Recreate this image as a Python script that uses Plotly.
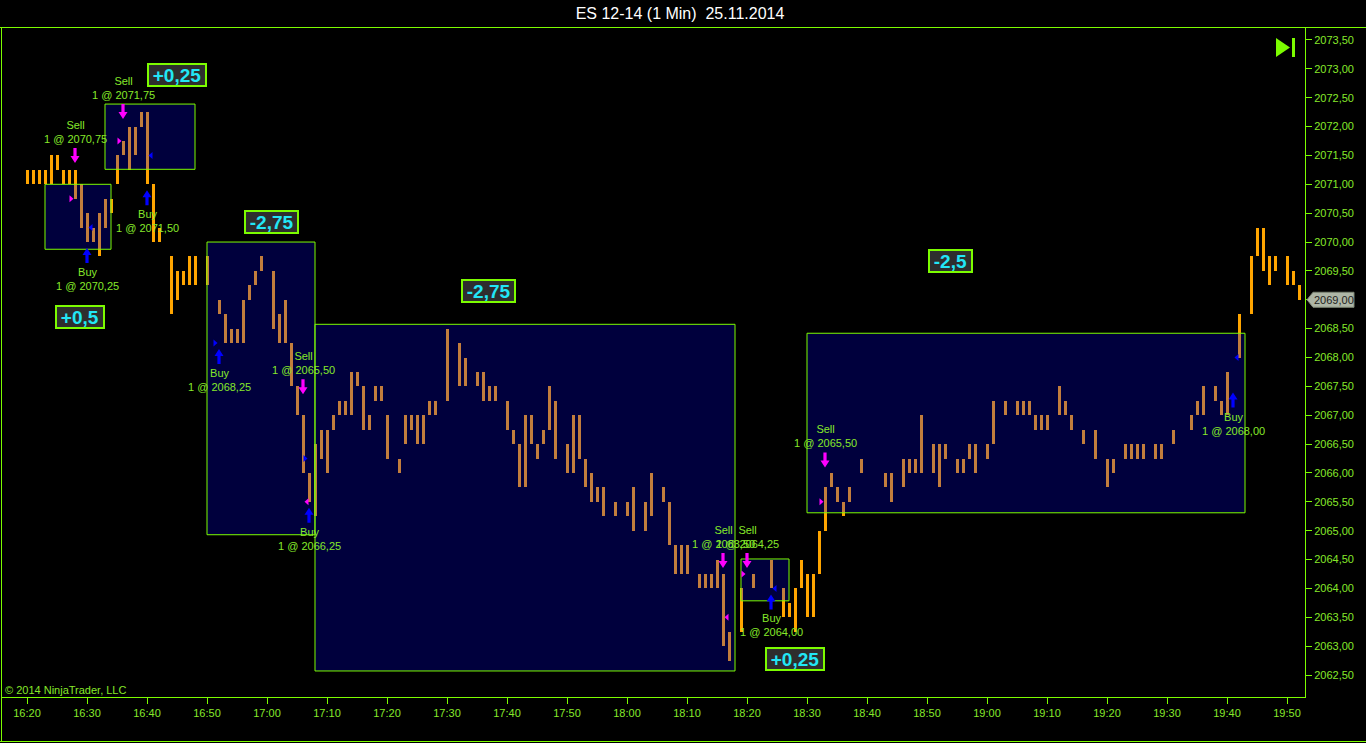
import plotly.graph_objects as go
import pandas as pd

# ---------------- data ----------------
DAY = "2014-11-25"
TITLE = "ES 12-14 (1 Min)  25.11.2014"
FIRST_BAR = "16:20"
# one bar per minute from 16:20; None = flat bar (high == low), not visible
HIGH = [
    2071.25, 2071.25, 2071.25, 2071.25, 2071.50, 2071.50, 2071.25, 2071.25, 2071.25, 2071.00,
    2070.50, 2070.25, 2070.50, 2070.75, 2070.75, 2071.50, 2071.75, 2072.00, 2072.00, 2072.25,
    2072.25, 2071.00, 2070.25, None, 2069.75, 2069.50, 2069.50, 2069.75, 2069.75, None,
    2069.75, None, 2069.00, 2068.75, 2068.50, 2068.50, 2069.00, 2069.25, 2069.50, 2069.75,
    None, 2069.50, 2068.75, 2069.00, 2068.25, 2067.50, 2067.00, 2066.00, 2066.50, 2066.75,
    2066.75, 2067.00, 2067.25, 2067.25, 2067.75, 2067.75, 2067.50, 2067.00, 2067.50, 2067.50,
    2067.00, None, 2066.25, 2067.00, 2067.00, 2067.00, 2067.00, 2067.25, 2067.25, None,
    2068.50, None, 2068.25, 2068.00, None, 2067.75, 2067.75, 2067.50, 2067.50, None,
    2067.25, 2066.75, 2066.50, 2067.00, 2067.00, 2066.50, 2066.75, 2067.50, 2067.25, None,
    2066.50, 2067.00, 2067.00, 2066.25, 2066.00, 2065.75, 2065.75, None, 2065.50, None,
    2065.50, 2065.75, None, 2065.50, 2066.00, None, 2065.75, 2065.50, 2064.75, 2064.75,
    2064.75, None, 2064.25, 2064.25, 2064.25, 2064.50, 2064.25, 2063.25, None, 2064.00,
    None, 2064.25, None, None, 2064.50, None, 2064.00, 2063.75, 2064.00, 2064.50,
    2064.25, 2064.25, 2065.00, 2065.75, 2066.00, 2065.75, 2065.50, 2065.75, None, 2066.25,
    None, None, None, 2066.00, 2066.00, None, 2066.25, 2066.25, 2066.25, 2067.00,
    None, 2066.50, 2066.50, 2066.50, None, 2066.25, 2066.25, 2066.50, 2066.50, None,
    2066.50, 2067.25, None, 2067.25, None, 2067.25, 2067.25, 2067.25, 2067.00, 2067.00,
    2067.00, None, 2067.50, 2067.25, 2067.00, None, 2066.75, None, 2066.75, None,
    2066.25, 2066.25, None, 2066.50, 2066.50, 2066.50, 2066.50, None, 2066.50, 2066.50,
    None, 2066.75, None, None, 2067.00, 2067.25, 2067.50, None, 2067.50, 2067.25,
    2067.75, None, 2068.75, None, 2069.75, 2070.25, 2070.25, 2069.75, 2069.75, None,
    2069.75, 2069.50, 2069.25,
]
LOW = [
    2071.00, 2071.00, 2071.00, 2071.00, 2071.00, 2071.25, 2071.00, 2071.00, 2070.75, 2070.25,
    2070.00, 2070.00, 2069.75, 2070.25, 2070.50, 2071.00, 2071.50, 2071.25, 2071.50, 2072.00,
    2071.00, 2070.00, 2070.00, None, 2068.75, 2069.00, 2069.25, 2069.25, 2069.25, None,
    2069.25, None, 2068.75, 2068.25, 2068.25, 2068.25, 2068.25, 2069.00, 2069.25, 2069.50,
    None, 2068.50, 2068.25, 2068.25, 2067.50, 2067.00, 2066.00, 2065.50, 2065.25, 2066.25,
    2066.00, 2066.75, 2067.00, 2067.00, 2067.00, 2067.50, 2066.75, 2066.75, 2067.25, 2067.25,
    2066.25, None, 2066.00, 2066.50, 2066.75, 2066.50, 2066.50, 2067.00, 2067.00, None,
    2067.25, None, 2067.50, 2067.50, None, 2067.50, 2067.25, 2067.25, 2067.25, None,
    2066.75, 2066.50, 2065.75, 2065.75, 2066.50, 2066.25, 2066.50, 2066.75, 2066.25, None,
    2066.00, 2066.00, 2066.25, 2065.75, 2065.50, 2065.50, 2065.25, None, 2065.25, None,
    2065.25, 2065.00, None, 2065.00, 2065.25, None, 2065.50, 2064.75, 2064.25, 2064.25,
    2064.25, None, 2064.00, 2064.00, 2064.00, 2064.00, 2063.00, 2062.75, None, 2063.25,
    None, 2064.00, None, None, 2064.00, None, 2063.50, 2063.50, 2063.25, 2064.00,
    2063.50, 2063.50, 2064.25, 2065.00, 2065.75, 2065.50, 2065.25, 2065.50, None, 2066.00,
    None, None, None, 2065.75, 2065.50, None, 2065.75, 2066.00, 2066.00, 2066.00,
    None, 2066.00, 2065.75, 2066.25, None, 2066.00, 2066.00, 2066.25, 2066.00, None,
    2066.25, 2066.50, None, 2067.00, None, 2067.00, 2067.00, 2067.00, 2066.75, 2066.75,
    2066.75, None, 2067.00, 2067.00, 2066.75, None, 2066.50, None, 2066.25, None,
    2065.75, 2066.00, None, 2066.25, 2066.25, 2066.25, 2066.25, None, 2066.25, 2066.25,
    None, 2066.50, None, None, 2066.75, 2067.00, 2067.00, None, 2067.25, 2067.00,
    2067.00, None, 2068.00, None, 2068.75, 2069.75, 2069.50, 2069.25, 2069.50, None,
    2069.25, 2069.25, 2069.00,
]
LAST_PRICE = 2069.00

EXEC_TIME = ["16:28", "16:30", "16:36", "16:40", "16:52", "17:06",
             "17:07", "18:16", "18:20", "18:24", "18:33", "19:41"]
EXEC_SIDE = ["Sell", "Buy", "Sell", "Buy", "Buy", "Sell",
             "Buy", "Sell", "Sell", "Buy", "Sell", "Buy"]
EXEC_PRICE = [2070.75, 2070.25, 2071.75, 2071.50, 2068.25, 2065.50,
              2066.25, 2063.50, 2064.25, 2064.00, 2065.50, 2068.00]
TRADE_ENTRY = [0, 2, 4, 6, 8, 10]
TRADE_EXIT = [1, 3, 5, 7, 9, 11]

# trade boxes (drawn rectangles)
BOX_START = ["16:23", "16:33", "16:50", "17:08", "18:19", "18:30"]
BOX_END = ["16:34", "16:48", "17:08", "18:18", "18:27", "19:43"]
BOX_LOW = [2069.875, 2071.26, 2064.93, 2062.57, 2063.785, 2065.31]
BOX_HIGH = [2071.00, 2072.39, 2070.00, 2068.575, 2064.51, 2068.42]

# ---------------- layout / style ----------------
FONT = "Liberation Sans, Arial, sans-serif"
GREEN = "#7CFC00"
TEXT = "#86E82A"
BAR = "#FFA500"
BOX_FILL = "rgba(0,0,255,0.24)"
SELL_C = "#FF00FF"
BUY_C = "#0000FF"
PROFIT_C = "#22E6F5"

ARROW_GAP = [7, 6, 22, 6, 6, 21, 6, 6, 6, 6, 20, 35]
PROFIT_TIME = ["16:28:50", "16:45:00", "17:00:40", "17:36:50", "18:28:00", "18:53:50"]
PROFIT_PRICE = [2068.71, 2072.89, 2070.34, 2069.16, 2062.78, 2069.67]

W, H = 1366, 743
ML, MR, MT, MB = 1, 61, 27, 46
Y_RANGE = [2062.119, 2073.725]
start = pd.Timestamp(f"{DAY} {FIRST_BAR}")
X_RANGE = [start - pd.Timedelta(minutes=4.333), start + pd.Timedelta(minutes=213.0)]


def ts(hm):
    return pd.Timestamp(f"{DAY} {hm}")


def minute_index(hm):
    return int(round((ts(hm) - start).total_seconds() / 60))


def fmt_price(p):
    return f"{p:.2f}".replace(".", ",")


def path(points):
    return "M " + " L ".join(f"{x:.2f},{y:.2f}" for x, y in points) + " Z"


fig = go.Figure()

# ---- bars (high-low) ----
bx, bbase, blen = [], [], []
for i, (h, l) in enumerate(zip(HIGH, LOW)):
    if h is None or l is None:
        continue
    bx.append(start + pd.Timedelta(minutes=i))
    bbase.append(l)
    blen.append(h - l)
fig.add_trace(go.Bar(x=bx, y=blen, base=bbase, width=30000,
                     marker=dict(color=BAR, line=dict(width=0)),
                     hoverinfo="skip"))

shapes = []
annotations = []

# ---- trade boxes ----
for s, e, lo, hi in zip(BOX_START, BOX_END, BOX_LOW, BOX_HIGH):
    shapes.append(dict(type="rect", xref="x", yref="y", x0=ts(s), x1=ts(e), y0=lo, y1=hi,
                       fillcolor=BOX_FILL, line=dict(color=GREEN, width=1), layer="above"))

# ---- execution markers ----
entries = set(TRADE_ENTRY)
for k, (t, side, price) in enumerate(zip(EXEC_TIME, EXEC_SIDE, EXEC_PRICE)):
    i = minute_index(t)
    color = SELL_C if side == "Sell" else BUY_C
    g = ARROW_GAP[k]
    if side == "Sell":
        anchor = max(HIGH[i], price) if HIGH[i] is not None else price
        pts = [(-1.6, g + 15), (1.6, g + 15), (1.6, g + 7), (4.5, g + 7), (0, g),
               (-4.5, g + 7), (-1.6, g + 7)]
    else:
        anchor = min(LOW[i], price) if LOW[i] is not None else price
        pts = [(-1.6, -g - 15), (1.6, -g - 15), (1.6, -g - 7), (4.5, -g - 7), (0, -g),
               (-4.5, -g - 7), (-1.6, -g - 7)]
    shapes.append(dict(type="path", xref="x", yref="y", xsizemode="pixel", ysizemode="pixel",
                       xanchor=ts(t), yanchor=anchor, path=path(pts),
                       fillcolor=color, line=dict(width=0), layer="above"))
    # execution triangle at the fill price
    if k in entries:
        tri = [(-5.5, 3.5), (-1.5, 0), (-5.5, -3.5)]
    else:
        tri = [(5.5, 3.5), (1.5, 0), (5.5, -3.5)]
    shapes.append(dict(type="path", xref="x", yref="y", xsizemode="pixel", ysizemode="pixel",
                       xanchor=ts(t), yanchor=price, path=path(tri),
                       fillcolor=color, line=dict(width=0), layer="above"))
    label = f"{side}<br>1 @ {fmt_price(price)}"
    if side == "Sell":
        annotations.append(dict(x=ts(t), y=anchor, xref="x", yref="y", text=label,
                                showarrow=False, yanchor="bottom", xanchor="center",
                                yshift=g + 16, font=dict(family=FONT, size=11, color=TEXT)))
    else:
        annotations.append(dict(x=ts(t), y=anchor, xref="x", yref="y", text=label,
                                showarrow=False, yanchor="top", xanchor="center",
                                yshift=-(g + 16), font=dict(family=FONT, size=11, color=TEXT)))

# ---- trade result labels ----
CW = {"+": 0.584, "-": 0.333, ",": 0.278}
for n, (a, b) in enumerate(zip(TRADE_ENTRY, TRADE_EXIT)):
    pnl = EXEC_PRICE[b] - EXEC_PRICE[a] if EXEC_SIDE[a] == "Buy" else EXEC_PRICE[a] - EXEC_PRICE[b]
    txt = f"{pnl:+g}".replace(".", ",")
    tw = sum(CW.get(c, 0.556) for c in txt) * 19
    annotations.append(dict(x=ts(PROFIT_TIME[n]), y=PROFIT_PRICE[n], xref="x", yref="y",
                            text=f"<b>{txt}</b>", showarrow=False, xanchor="center", yanchor="middle",
                            font=dict(family=FONT, size=19, color=PROFIT_C),
                            bgcolor="#2E2E2E", bordercolor=GREEN, borderwidth=2, borderpad=0,
                            width=tw + 8, height=20))

# ---- last price tag ----
shapes.append(dict(type="path", xref="paper", yref="y", xsizemode="pixel", ysizemode="pixel",
                   xanchor=1, yanchor=LAST_PRICE,
                   path=path([(2, 0), (8, 7.5), (49, 7.5), (49, -7.5), (8, -7.5)]),
                   fillcolor="#AEB6A6", line=dict(color="#7E8676", width=1), layer="above"))
annotations.append(dict(x=1, y=LAST_PRICE, xref="paper", yref="y", xanchor="center", xshift=29,
                        text=fmt_price(LAST_PRICE), showarrow=False,
                        font=dict(family=FONT, size=11, color="#1E1E1E")))

# ---- "go to end" icon ----
shapes.append(dict(type="path", xref="paper", yref="paper", xsizemode="pixel", ysizemode="pixel",
                   xanchor=1, yanchor=1, path=path([(-29, -11), (-29, -30), (-15, -20.5)]),
                   fillcolor=GREEN, line=dict(width=0), layer="above"))
shapes.append(dict(type="path", xref="paper", yref="paper", xsizemode="pixel", ysizemode="pixel",
                   xanchor=1, yanchor=1, path=path([(-13, -11), (-10, -11), (-10, -30), (-13, -30)]),
                   fillcolor=GREEN, line=dict(width=0), layer="above"))

# ---- frame lines ----
pw, ph = W - ML - MR, H - MT - MB


def px_x(px):
    return (px - ML) / pw


def px_y(py):
    return (H - MB - py) / ph


shapes.append(dict(type="line", xref="paper", yref="paper", x0=px_x(0), x1=px_x(W), y0=px_y(27.5), y1=px_y(27.5),
                   line=dict(color=GREEN, width=1), layer="above"))
shapes.append(dict(type="line", xref="paper", yref="paper", x0=px_x(1.5), x1=px_x(1.5), y0=px_y(27), y1=px_y(742),
                   line=dict(color=GREEN, width=1), layer="above"))
shapes.append(dict(type="line", xref="paper", yref="paper", x0=px_x(0), x1=px_x(W), y0=px_y(741.5), y1=px_y(741.5),
                   line=dict(color=GREEN, width=1), layer="above"))

annotations.append(dict(x=px_x(3), y=px_y(690), xref="paper", yref="paper", xanchor="left",
                        yanchor="middle", text="© 2014 NinjaTrader, LLC", showarrow=False,
                        font=dict(family=FONT, size=11, color=TEXT)))

fig.update_layout(
    width=W, height=H,
    margin=dict(l=ML, r=MR, t=MT, b=MB, pad=0),
    paper_bgcolor="black", plot_bgcolor="black",
    showlegend=False, separators=",.", bargap=0,
    title=dict(text=TITLE.replace("  ", " \u00a0"), xref="container", yref="container",
               x=680 / W, y=1 - 13 / H, xanchor="center", yanchor="middle",
               font=dict(family=FONT, size=16, color="white")),
    xaxis=dict(type="date", range=X_RANGE, tickformat="%H:%M", dtick=600000, tick0=start,
               ticks="outside", ticklen=6, tickcolor=GREEN, showline=True, linecolor=GREEN,
               linewidth=1, showgrid=False, zeroline=False, fixedrange=True,
               tickfont=dict(family=FONT, size=11, color=TEXT)),
    yaxis=dict(side="right", range=Y_RANGE, dtick=0.5, tick0=2062.5, tickformat=".2f",
               ticks="outside", ticklen=6, tickcolor=GREEN, showline=True, linecolor=GREEN,
               linewidth=1, showgrid=False, zeroline=False, fixedrange=True,
               tickfont=dict(family=FONT, size=11, color=TEXT)),
    shapes=shapes, annotations=annotations,
)

fig.write_html("out.html", config={"displayModeBar": False},
               post_script="document.body.style.margin='0';document.body.style.overflow='hidden';")
